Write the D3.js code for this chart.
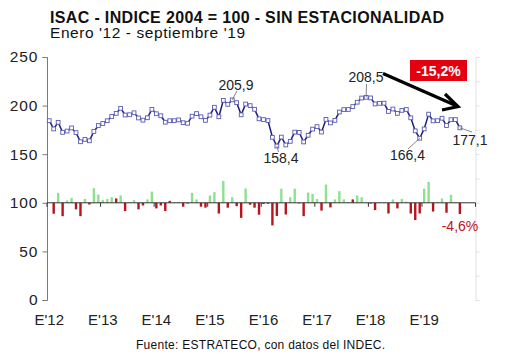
<!DOCTYPE html>
<html><head><meta charset="utf-8">
<script src="https://cdn.jsdelivr.net/npm/d3@7"></script>
<style>
body{margin:0;background:#fff}
svg{display:block;background:#fff}
text{font-family:"Liberation Sans",Arial,Helvetica,sans-serif}
</style>
</head><body>
<svg id="c" width="530" height="355"></svg>
<script>
// ---- data ----
const yearLabels = ["E'12","E'13","E'14","E'15","E'16","E'17","E'18","E'19"];
const nCategories = 96; // Jan 2012 .. Dec 2019 slots on the axis
const isac = [184.5,176,182.8,172.5,173.8,177,172.2,162.8,165.2,163.8,
  173.4,179.5,181.6,184.4,188.8,192,197.2,190.3,190.6,192.6,
  187.3,185,187.5,196.2,191.6,189.6,182.9,184.4,184.5,185.3,
  182.4,181.8,189.1,191.8,188.5,184.8,190.2,198.3,188.5,205.4,
  201.3,205.9,203,190.5,201.6,200,196.2,186.4,185.6,184.6,
  167.4,158.4,167.6,159.5,163.2,172.7,172.4,162.6,169.5,175.8,
  178.4,172.8,185.8,182.2,184.8,193.4,195.9,196,199,203.5,
  207.8,208.5,207.9,201.7,202.3,202.5,194,196.5,192,195.1,
  196,187.4,174,166.4,176,191.2,184.3,184.5,187,179.5,
  185.5,185.6,177.1];
const monthlyChange = [null,-4.5,4.1,-5.5,1.0,2.0,-2.7,-5.5,1.6,-0.7,
  6.0,3.4,1.1,1.6,2.3,1.8,3.0,-3.4,0.3,1.1,
  -2.7,-1.1,1.4,4.6,-2.3,-1.1,-3.4,0.8,0.1,0.4,
  -1.6,-0.3,4.1,1.4,-1.6,-2.0,3.0,4.4,-4.4,9.0,
  -2.0,2.3,-1.4,-6.2,5.9,-0.8,-2.0,-4.9,-0.5,-0.4,
  -9.3,-5.4,5.8,-4.8,2.3,5.8,-0.2,-5.5,4.2,3.7,
  1.6,-3.2,7.5,-1.9,1.4,4.8,1.4,0.3,1.4,3.0,
  2.3,0.3,-0.3,-3.0,0.3,0.1,-4.4,1.4,-2.3,1.6,
  0.5,-4.4,-7.1,-4.4,5.8,8.6,-3.6,0.1,1.8,-4.1,
  3.3,0.1,-4.6];
const redUpBars = [15, 27, 68];
const yTicks = [0,50,100,150,200,250];
const rightTicks = [-40,-30,-20,-10,0,10,20,30,40,50,60];
const labeledPoints = [41, 51, 71, 83, 92];
const title = "ISAC - INDICE 2004 = 100 - SIN ESTACIONALIDAD";
const subtitle = "Enero '12 - septiembre '19";
const source = "Fuente: ESTRATECO, con datos del INDEC.";
const dropLabel = "-15,2%";
const lastChangeLabel = "-4,6%";

// ---- chart ----
const svg = d3.select("#c");
const x = d3.scaleBand().domain(d3.range(nCategories)).range([47, 475.5]).padding(0);
const bw = x.bandwidth();
const cx = i => x(i) + bw/2;
const y = d3.scaleLinear().domain([0,250]).range([300,57]);
const y2 = d3.scaleLinear().domain([-40,60]).range([300,57]);

// titles
svg.append("text").attr("x",50).attr("y",22.5).attr("font-size",16).attr("font-weight","bold")
  .attr("fill","#111").attr("textLength",394).attr("lengthAdjust","spacing").text(title);
svg.append("text").attr("x",50).attr("y",38).attr("font-size",15.5)
  .attr("fill","#111").attr("textLength",195).attr("lengthAdjust","spacing").text(subtitle);
svg.append("text").attr("x",136).attr("y",349).attr("font-size",12)
  .attr("fill","#111").attr("textLength",249).attr("lengthAdjust","spacing").text(source);

// right (hidden-label) axis
const ra = svg.append("g").attr("transform","translate(475.5,0)")
  .call(d3.axisRight(y2).tickValues(rightTicks).tickSize(4).tickFormat(""));
ra.selectAll("path,line").attr("stroke","#e2e2e2");

// left axis
const la = svg.append("g").attr("transform","translate(47.5,0)")
  .call(d3.axisLeft(y).tickValues(yTicks).tickSize(5).tickPadding(4));
la.selectAll("path,line").attr("stroke","#7a7a7a");
la.select(".domain").attr("d","M-5,57.5H0V300.5H-5");
la.selectAll("text").attr("font-size",15.5).attr("fill","#222").attr("letter-spacing","1px")
  .attr("font-family","Liberation Sans, Arial, sans-serif");

// bottom labels
const ba = svg.append("g").attr("transform","translate(0,300)")
  .call(d3.axisBottom(x).tickValues(d3.range(0, yearLabels.length*12, 12))
    .tickFormat((d,i)=>yearLabels[i]).tickSize(0).tickPadding(14));
ba.select(".domain").remove();
ba.selectAll("text").attr("font-size",15).attr("fill","#222").attr("font-family","Liberation Sans, Arial, sans-serif");

// bars
const barW = 2.4;
svg.append("g").selectAll("rect")
  .data(monthlyChange.map((v,i)=>({v,i})).filter(d=>d.v!==null))
  .join("rect")
  .attr("x", d=>cx(d.i)-barW/2)
  .attr("width", barW)
  .attr("y", d=>Math.min(y2(d.v), y2(0)))
  .attr("height", d=>Math.max(0.6, Math.abs(y2(d.v)-y2(0))))
  .attr("fill", d=> (d.v<0 || redUpBars.includes(d.i)) ? "#b8141e" : "#8fe08f");

// category axis at 100
const ca = svg.append("g");
ca.append("line").attr("x1",47).attr("x2",475.5).attr("y1",y(100)).attr("y2",y(100))
  .attr("stroke","#333").attr("stroke-width",1);
ca.selectAll("line.t").data(d3.range(0, nCategories+1, 12)).join("line").attr("class","t")
  .attr("x1",d=>x(0)+d*bw).attr("x2",d=>x(0)+d*bw)
  .attr("y1",y(100)).attr("y2",y(100)+4).attr("stroke","#333");

// line
const line = d3.line().x((d,i)=>cx(i)).y(d=>y(d));
svg.append("path").datum(isac).attr("d",line).attr("fill","none")
  .attr("stroke","#1c1c7e").attr("stroke-width",1.5);
svg.append("g").selectAll("rect").data(isac).join("rect")
  .attr("x",(d,i)=>cx(i)-1.9).attr("y",d=>y(d)-1.9)
  .attr("width",3.8).attr("height",3.8)
  .attr("fill","#fff").attr("stroke","#5a5ab4").attr("stroke-width",0.9);

// data labels
const fmt = v => v.toFixed(1).replace(".", ",");
const labelPos = {41:[236,90,237,91],51:[281,163,278.5,152],71:[366,82,366.5,84],83:[407.5,160,408,149],92:[470,145,472,132]};
labeledPoints.forEach(i=>{
  const p = labelPos[i];
  svg.append("line").attr("x1",cx(i)).attr("y1",y(isac[i])).attr("x2",p[2]).attr("y2",p[3])
    .attr("stroke","#666").attr("stroke-width",0.8);
  svg.append("text").attr("x",p[0]).attr("y",p[1]).attr("text-anchor","middle")
    .attr("font-size",14).attr("fill","#222").text(fmt(isac[i]));
});

// arrow and drop box
svg.append("line").attr("x1",383).attr("y1",73.5).attr("x2",457).attr("y2",106)
  .attr("stroke","#000").attr("stroke-width",3.2);
svg.append("polyline").attr("points","445,94 458,106.5 442,110")
  .attr("fill","none").attr("stroke","#000").attr("stroke-width",3.2).attr("stroke-linejoin","miter");
svg.append("rect").attr("x",410).attr("y",60).attr("width",57).attr("height",21).attr("fill","#e3000f");
svg.append("text").attr("x",438.5).attr("y",75.5).attr("text-anchor","middle").attr("font-size",14)
  .attr("font-weight","bold").attr("fill","#fff").text(dropLabel);
svg.append("text").attr("x",460).attr("y",231).attr("text-anchor","middle").attr("font-size",14)
  .attr("fill","#b8141e").text(lastChangeLabel);
</script>
</body></html>
